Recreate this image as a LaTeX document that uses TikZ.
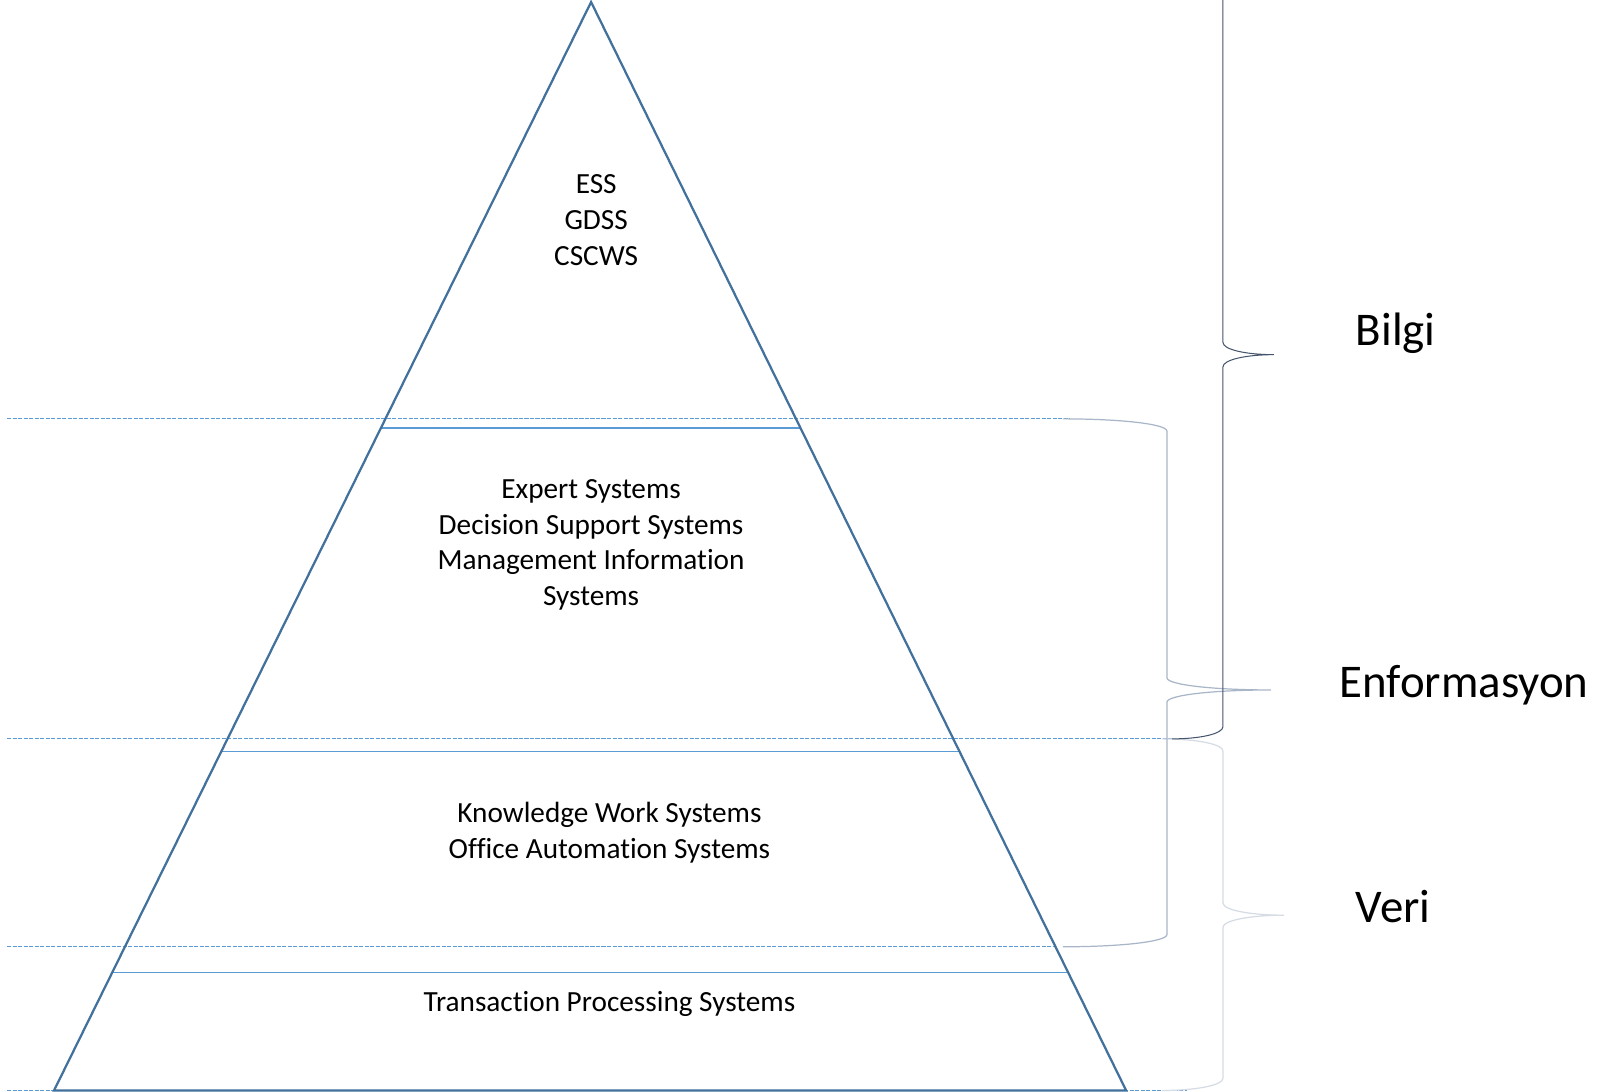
\documentclass[tikz,border=0pt]{standalone}
\usepackage{fontspec}
\setmainfont[Ligatures=NoCommon]{Carlito}
\usetikzlibrary{positioning, calc}
\definecolor{pyrline}{HTML}{41719C}
\definecolor{layline}{HTML}{5B9BD5}
\definecolor{brcdark}{HTML}{44546A}
\definecolor{brcmid}{HTML}{A9B6C8}
\definecolor{brclight}{HTML}{D6DCE4}
\tikzset{
  x=0.5pt, y=-0.5pt,
  pyramid/.style={draw=pyrline, line width=1.1pt, line join=miter},
  layer/.style={draw=layline, line width=0.6pt},
  level/.style={draw=layline, line width=0.5pt, dash pattern=on 2pt off 0.7pt},
  systems/.style={align=center, inner sep=0pt, font=\fontsize{14.35}{17.5}\selectfont},
  tier/.style={inner sep=0pt, font=\fontsize{23}{28}\selectfont}
}
% right brace: style, x of ends, x of spine, y top, y tip, y bottom
\newcommand\RBrace[6]{%
    \pgfmathsetmacro\bw{#3-#2}
    \draw[#1] (#2,#4) .. controls ({#2+0.55*\bw},#4) and (#3,{#4+5}) .. (#3,{#4+12})
      -- (#3,{#5-12}) .. controls (#3,{#5-5}) and ({#3+0.45*\bw},#5) .. ({2*#3-#2},#5)
      .. controls ({#3+0.45*\bw},#5) and (#3,{#5+5}) .. (#3,{#5+12})
      -- (#3,{#6-12}) .. controls (#3,{#6-5}) and ({#2+0.55*\bw},#6) .. (#2,#6);
    }
\begin{document}
\begin{tikzpicture}
    \fill[white] (0,0) rectangle (1568,1071);
    \useasboundingbox (0,0) rectangle (1568,1071);
    \clip (0,0) rectangle (1568,1071);

    \coordinate (top) at (580,2);
    \coordinate (bl) at (53,1070);
    \coordinate (br) at (1105,1070);

    % dotted level guides
    \draw[level] (7,411) -- (1050,411);
    \draw[level] (7,725) -- (1150,725);
    \draw[level] (7,929) -- (1036,929);
    \draw[level] (7,1070) -- (1165,1070);

    % layer borders inside the pyramid
    \draw[layer] ($(top)!0.3914!(bl)$) -- ($(top)!0.3914!(br)$);
    \draw[layer] ($(top)!0.6882!(bl)$) -- ($(top)!0.6882!(br)$);
    \draw[layer] ($(top)!0.8914!(bl)$) -- ($(top)!0.8914!(br)$);

    \draw[pyramid] (top) -- (bl) -- (br) -- cycle;

    \RBrace{brclight, line width=0.6pt}{1140}{1200}{725}{898}{1070}
    \RBrace{brcmid, line width=0.6pt}{1043}{1145}{411}{677}{929}
    \RBrace{brcdark, line width=0.5pt}{1150}{1200}{-29}{348}{725}

    \node[systems, anchor=north] (ess) at (585,171) {ESS\\GDSS\\CSCWS};
    \node[systems, anchor=north] (dss) at (580,470)
      {Expert Systems\\Decision Support Systems\\Management Information\\Systems};
    \node[systems, anchor=north] (kws) at (598,787)
      {Knowledge Work Systems\\Office Automation Systems};
    \node[systems, anchor=north] (tps) at (598,972) {Transaction Processing Systems};

    \node[tier, anchor=base west] (bilgi) at (1330,339) {Bilgi};
    \node[tier, anchor=base west] (enf) at (1314,684) {Enformasyon};
    \node[tier, anchor=base west] (veri) at (1330,905) {Veri};
\end{tikzpicture}
\end{document}
